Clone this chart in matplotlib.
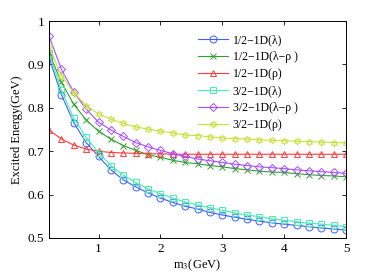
import matplotlib
matplotlib.use('Agg')
import matplotlib.pyplot as plt
import numpy as np

plt.rcParams['font.family'] = ['Liberation Serif', 'DejaVu Serif']
plt.rcParams['mathtext.fontset'] = 'stix'

# massa m3 (GeV)
m3 = [0.2, 0.4, 0.6, 0.8, 1.0, 1.2, 1.4, 1.6, 1.8, 2.0, 2.2, 2.4, 2.6,
      2.8, 3.0, 3.2, 3.4, 3.6, 3.8, 4.0, 4.2, 4.4, 4.6, 4.8, 5.0]

half_lam = [0.916, 0.830, 0.766, 0.720, 0.688, 0.657, 0.634, 0.618, 0.604,
            0.592, 0.582, 0.573, 0.567, 0.559, 0.553, 0.548, 0.543, 0.539,
            0.535, 0.532, 0.529, 0.526, 0.523, 0.521, 0.518]
half_lamrho = [0.927, 0.859, 0.808, 0.772, 0.746, 0.728, 0.713, 0.702, 0.692,
               0.686, 0.679, 0.674, 0.671, 0.667, 0.664, 0.660, 0.657, 0.654,
               0.652, 0.651, 0.648, 0.646, 0.644, 0.643, 0.641]
half_rho = [0.749, 0.728, 0.714, 0.705, 0.700, 0.697, 0.696, 0.695, 0.694,
            0.694, 0.693, 0.693, 0.693, 0.693, 0.693, 0.693, 0.693, 0.693,
            0.693, 0.693, 0.693, 0.693, 0.693, 0.693, 0.693]
three_lam = [0.926, 0.841, 0.776, 0.732, 0.697, 0.667, 0.645, 0.628, 0.613,
             0.602, 0.592, 0.583, 0.576, 0.570, 0.564, 0.558, 0.553, 0.549,
             0.544, 0.541, 0.537, 0.534, 0.532, 0.529, 0.526]
three_lamrho = [0.966, 0.889, 0.836, 0.797, 0.767, 0.749, 0.734, 0.720, 0.710,
                0.702, 0.694, 0.688, 0.682, 0.678, 0.674, 0.670, 0.667, 0.664,
                0.662, 0.660, 0.657, 0.655, 0.653, 0.651, 0.649]
three_rho = [0.943, 0.874, 0.835, 0.805, 0.786, 0.774, 0.764, 0.756, 0.751,
             0.746, 0.742, 0.737, 0.736, 0.733, 0.730, 0.729, 0.728, 0.726,
             0.725, 0.724, 0.723, 0.722, 0.721, 0.720, 0.719]

series = [
    (half_lam, '1/2\u22121D(\u03bb)', '#3f5fff', 'o'),
    (half_lamrho, '1/2\u22121D(\u03bb\u2212\u03c1 )', '#2ea02e', 'x'),
    (half_rho, '1/2\u22121D(\u03c1)', '#ff3c3c', '^'),
    (three_lam, '3/2\u22121D(\u03bb)', '#40f0b0', 's'),
    (three_lamrho, '3/2\u22121D(\u03bb\u2212\u03c1 )', '#a64dff', 'D'),
    (three_rho, '3/2\u22121D(\u03c1)', '#c8e03c', (6, 1, 0)),
]

fig = plt.figure(figsize=(3.82, 2.73), dpi=100)
ax = fig.add_axes([49 / 382, 1 - 238 / 273, 297 / 382, 217 / 273])

for valores, nome, cor, marcador in series:
    tam = 4.0 if marcador == 'D' else 5.0
    ax.plot(m3, valores, color=cor, marker=marcador, markersize=tam,
            markerfacecolor='none', markeredgecolor=cor, linewidth=0.8,
            markeredgewidth=0.7, label=nome)

ax.set_xlim(0.2, 5)
ax.set_ylim(0.5, 1)
ax.set_xticks([1, 2, 3, 4, 5])
ax.set_yticks([0.5, 0.6, 0.7, 0.8, 0.9, 1.0])
ax.set_yticklabels(['0.5', '0.6', '0.7', '0.8', '0.9', '1'])
ax.tick_params(direction='in', top=True, right=True, labelsize=9.5, length=3, width=0.6)
for s in ax.spines.values():
    s.set_linewidth(0.7)

ax.set_xlabel('m$_3$(GeV)', fontsize=9, labelpad=2)
ax.set_ylabel('Excited Energy(GeV)', fontsize=9, labelpad=3)

ax.legend(loc='upper left', frameon=False, fontsize=8.5, handlelength=2.6,
          handletextpad=0.4, labelspacing=0.42, borderaxespad=0.0,
          borderpad=0.0, bbox_to_anchor=(0.50, 0.94))

fig.savefig('out.png', dpi=100)
